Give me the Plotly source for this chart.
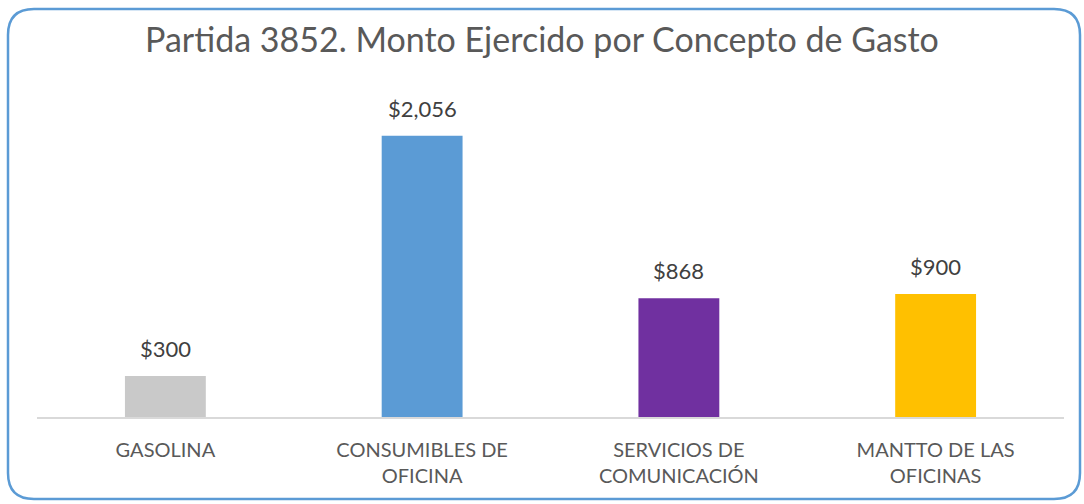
import plotly.graph_objects as go

categories = ["GASOLINA", "CONSUMIBLES DE<br>OFICINA", "SERVICIOS DE<br>COMUNICACIÓN", "MANTTO DE LAS<br>OFICINAS"]
values = [300, 2056, 868, 900]
labels = ["$300", "$2,056", "$868", "$900"]
colors = ["#C9C9C9", "#5B9BD5", "#7030A0", "#FFC000"]

W, H = 1084, 504
L, R, T, B = 37, 20, 75, 87
pw, ph = W - L - R, H - T - B

def px(x):
    return (x - L) / pw

def py(y):
    return 1 - (y - T) / ph

x0, y0, x1, y1, r = 8, 9, 1080, 499, 26
path = (
    f"M {px(x0+r)},{py(y0)} L {px(x1-r)},{py(y0)} Q {px(x1)},{py(y0)} {px(x1)},{py(y0+r)} "
    f"L {px(x1)},{py(y1-r)} Q {px(x1)},{py(y1)} {px(x1-r)},{py(y1)} "
    f"L {px(x0+r)},{py(y1)} Q {px(x0)},{py(y1)} {px(x0)},{py(y1-r)} "
    f"L {px(x0)},{py(y0+r)} Q {px(x0)},{py(y0)} {px(x0+r)},{py(y0)} Z"
)

fig = go.Figure(go.Bar(
    x=categories, y=values, marker=dict(color=colors, line=dict(width=0)),
    width=0.315, hoverinfo="x+y",
))

annotations = [
    dict(x=c, y=v, text=t, xref="x", yref="y", showarrow=False,
         yanchor="bottom", yshift=12,
         font=dict(family="Lato", size=22, color="#404040"))
    for c, v, t in zip(categories, values, labels)
]

fig.update_layout(
    width=W, height=H,
    margin=dict(l=L, r=R, t=T, b=B),
    paper_bgcolor="white", plot_bgcolor="white",
    title=dict(text="Partida 3852. Monto Ejercido por Concepto de Gasto",
               x=0.5, xanchor="center", y=1 - 40 / H, yanchor="middle",
               font=dict(family="Lato", size=34, color="#595959")),
    xaxis=dict(showline=True, linecolor="#D9D9D9", linewidth=2,
               tickfont=dict(family="Lato", size=20, color="#595959"),
               ticks="outside", ticklen=14, tickcolor="rgba(0,0,0,0)"),
    yaxis=dict(range=[0, 2500], visible=False, showgrid=False),
    showlegend=False,
    annotations=annotations,
    shapes=[dict(type="path", path=path, xref="paper", yref="paper",
                 line=dict(color="#5B9BD5", width=2.5), layer="above")],
)

fig.write_html("out.html", config={"displayModeBar": False},
               post_script="document.body.style.margin='0';document.body.style.overflow='hidden';")
